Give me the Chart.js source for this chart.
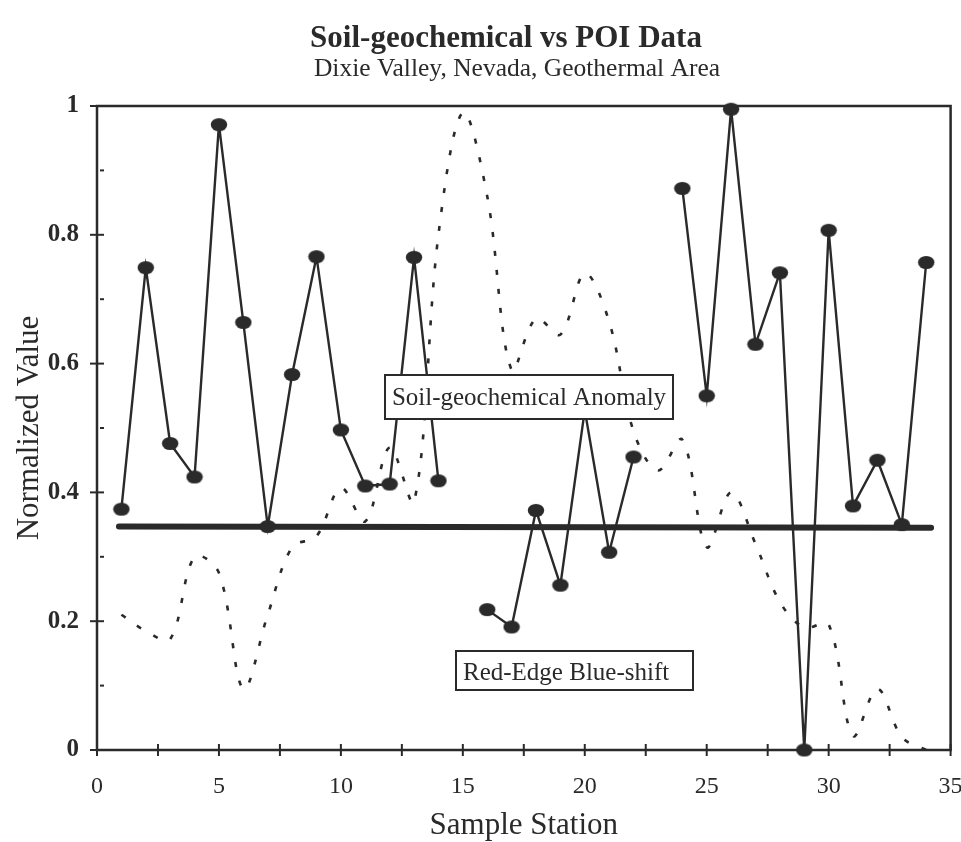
<!DOCTYPE html>
<html><head><meta charset="utf-8">
<script src="https://cdn.jsdelivr.net/npm/chart.js@4.4.1/dist/chart.umd.min.js"></script>
<style>html,body{margin:0;padding:0;background:#fff}canvas{display:block}</style>
</head><body>
<canvas id="c" width="961" height="842"></canvas>
<script>
// ---- data ----
const stations = [1,2,3,4,5,6,7,8,9,10,11,12,13,14,15,16,17,18,19,20,21,22,23,24,25,26,27,28,29,30,31,32,33,34];
const soilValues = [0.374,0.749,0.476,0.424,0.971,0.664,0.347,0.583,0.766,0.497,0.410,0.413,0.765,0.418,null,
                    0.218,0.191,0.372,0.256,0.528,0.307,0.455,null,
                    0.872,0.550,0.995,0.630,0.741,0.000,0.807,0.379,0.450,0.350,0.757];
const redEdgeValues = [0.210,0.185,0.172,0.300,0.275,0.095,0.210,0.315,0.332,0.407,0.355,0.470,0.385,0.800,0.990,
                       0.860,0.590,0.670,0.645,0.740,0.665,0.495,0.434,0.482,0.315,0.400,0.320,0.230,0.190,0.195,
                       0.022,0.095,0.020,0.000];
const trendStations = [0.9, 34.2];
const trendValues = [0.347, 0.345];
const xTickLabels = [0,5,10,15,20,25,30,35];
const yTickLabels = [0,0.2,0.4,0.6,0.8,1];
const titleText = 'Soil-geochemical vs POI Data';
const subtitleText = 'Dixie Valley, Nevada, Geothermal Area';
const soilLabel = 'Soil-geochemical Anomaly';
const redLabel = 'Red-Edge Blue-shift';

const INK = '#2a2a2a';
const SERIF = '"Liberation Serif", "Times New Roman", serif';

function makeMarker(){
  const c = document.createElement('canvas'); c.width = 18; c.height = 15;
  const g = c.getContext('2d'); g.fillStyle = INK;
  g.beginPath(); g.ellipse(9, 7.5, 8.2, 6.6, 0, 0, Math.PI*2); g.fill();
  return c;
}
const marker = makeMarker();

const decor = {
  id: 'decor',
  beforeDatasetsDraw(chart){
    const {ctx, chartArea:a, scales:{x, y}} = chart;
    ctx.save();
    ctx.strokeStyle = INK; ctx.lineWidth = 2.5;
    ctx.strokeRect(a.left, a.top, a.right - a.left, a.bottom - a.top);
    ctx.lineWidth = 2;
    y.ticks.forEach(t => {
      const p = y.getPixelForValue(t.value);
      const major = yTickLabels.some(v => Math.abs(v - t.value) < 1e-6);
      ctx.beginPath();
      if (major) { ctx.moveTo(a.left - 7, p); ctx.lineTo(a.left + 7, p); }
      else { ctx.moveTo(a.left + 3, p); ctx.lineTo(a.left + 7, p); }
      ctx.stroke();
    });
    x.ticks.forEach(t => {
      const p = x.getPixelForValue(t.value);
      ctx.beginPath(); ctx.moveTo(p, a.bottom - 6); ctx.lineTo(p, a.bottom + 6); ctx.stroke();
    });
    ctx.restore();
  },
  afterDatasetsDraw(chart){
    const {ctx} = chart;
    ctx.save();
    ctx.font = '25px ' + SERIF;
    ctx.textBaseline = 'alphabetic';
    ctx.fillStyle = '#fff'; ctx.strokeStyle = INK; ctx.lineWidth = 2;
    // Soil-geochemical Anomaly box
    ctx.fillRect(385, 375, 288, 44); ctx.strokeRect(385, 375, 288, 44);
    ctx.fillStyle = INK; ctx.textAlign = 'center';
    ctx.fillText(soilLabel, 529, 405);
    // Red-Edge Blue-shift box
    ctx.fillStyle = '#fff';
    ctx.fillRect(456, 651, 237, 39); ctx.strokeRect(456, 651, 237, 39);
    ctx.fillStyle = INK; ctx.textAlign = 'left';
    ctx.fillText(redLabel, 463, 680);
    ctx.restore();
  },
  afterDraw(chart){
    const {ctx} = chart;
    ctx.save();
    ctx.fillStyle = INK; ctx.textAlign = 'center'; ctx.textBaseline = 'alphabetic';
    ctx.font = 'bold 31px ' + SERIF;
    ctx.fillText(titleText, 506, 47);
    ctx.font = '25.5px ' + SERIF;
    ctx.fillText(subtitleText, 517, 76);
    ctx.restore();
  }
};

new Chart(document.getElementById('c'), {
  type: 'line',
  data: {
    datasets: [
      { label: soilLabel, data: stations.map((s,i) => ({x: s, y: soilValues[i]})),
        borderColor: INK, borderWidth: 2.4, tension: 0, spanGaps: false,
        pointStyle: marker, pointRadius: 8, clip: false },
      { label: 'trend', data: trendStations.map((s,i) => ({x: s, y: trendValues[i]})),
        borderColor: INK, borderWidth: 6, borderCapStyle: 'round', pointRadius: 0 },
      { label: redLabel, data: stations.map((s,i) => ({x: s, y: redEdgeValues[i]})),
        borderColor: INK, borderWidth: 2.6, borderDash: [5, 14], tension: 0.35, pointRadius: 0 }
    ]
  },
  options: {
    responsive: false, animation: false, devicePixelRatio: 1,
    layout: { padding: { top: 106, right: 9, bottom: 0, left: 0 } },
    plugins: { legend: { display: false }, tooltip: { enabled: false }, title: { display: false } },
    scales: {
      x: {
        type: 'linear', min: 0, max: 35,
        grid: { display: false }, border: { display: false },
        ticks: { stepSize: 2.5, padding: 14, color: INK, font: { family: SERIF, size: 24 },
          callback: v => xTickLabels.includes(v) ? String(v) : '' },
        title: { display: true, text: 'Sample Station', color: INK, padding: { top: 0, bottom: 1 },
          font: { family: SERIF, size: 31, lineHeight: 1.0 } },
        afterFit(s){ s.height = 92; s.paddingLeft = 0; s.paddingRight = 0; }
      },
      y: {
        type: 'linear', min: 0, max: 1,
        grid: { display: false }, border: { display: false },
        ticks: { stepSize: 0.1, padding: 10, color: INK, font: { family: SERIF, size: 25, weight: 'bold' },
          callback: v => { const r = Math.round(v * 10) / 10; return yTickLabels.includes(r) ? String(r) : ''; } },
        title: { display: true, text: 'Normalized Value', color: INK, padding: { top: 14, bottom: 0 },
          font: { family: SERIF, size: 31, lineHeight: 1.0 } },
        afterFit(s){ s.width = 97; s.paddingTop = 0; s.paddingBottom = 0; }
      }
    }
  },
  plugins: [decor]
});
</script>
</body></html>
